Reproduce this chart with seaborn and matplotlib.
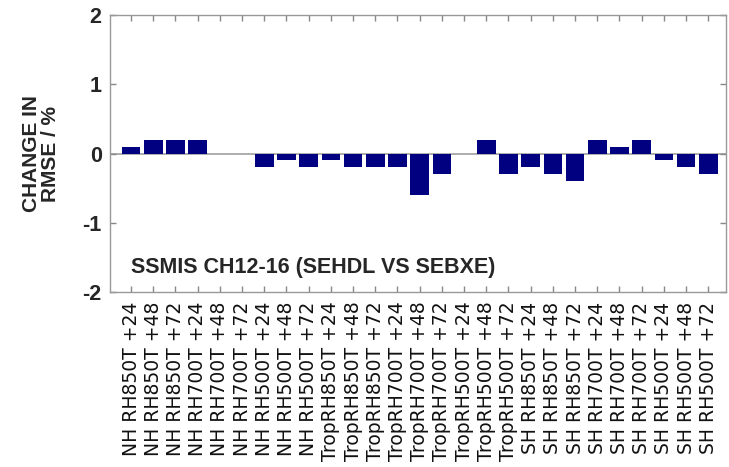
import matplotlib
matplotlib.use("Agg")
import matplotlib.pyplot as plt
import seaborn as sns
import pandas as pd

categories = [
    "NH RH850T +24", "NH RH850T +48", "NH RH850T +72",
    "NH RH700T +24", "NH RH700T +48", "NH RH700T +72",
    "NH RH500T +24", "NH RH500T +48", "NH RH500T +72",
    "TropRH850T +24", "TropRH850T +48", "TropRH850T +72",
    "TropRH700T +24", "TropRH700T +48", "TropRH700T +72",
    "TropRH500T +24", "TropRH500T +48", "TropRH500T +72",
    "SH RH850T +24", "SH RH850T +48", "SH RH850T +72",
    "SH RH700T +24", "SH RH700T +48", "SH RH700T +72",
    "SH RH500T +24", "SH RH500T +48", "SH RH500T +72",
]
values = [
    0.1, 0.2, 0.2,
    0.2, 0.0, 0.0,
    -0.2, -0.1, -0.2,
    -0.1, -0.2, -0.2,
    -0.2, -0.6, -0.3,
    0.0, 0.2, -0.3,
    -0.2, -0.3, -0.4,
    0.2, 0.1, 0.2,
    -0.1, -0.2, -0.3,
]
yticks = [-2, -1, 0, 1, 2]
title_text = "SSMIS CH12-16 (SEHDL VS SEBXE)"
ylabel_text = "CHANGE IN\nRMSE / %"

df = pd.DataFrame({"cat": categories, "val": values})

sns.set_style("white")
plt.rcParams["font.family"] = ["Liberation Sans", "DejaVu Sans"]

fig = plt.figure(figsize=(7.29, 4.67), dpi=100)
ax = fig.add_axes([0.1509, 0.3747, 0.8450, 0.5932])

sns.barplot(data=df, x="cat", y="val", color="#000080", saturation=1,
            width=0.84, linewidth=0, ax=ax)

ax.axhline(0, color="#a0a0a0", lw=1.2, zorder=0)
ax.set_xlim(-0.95, 26.8)
ax.set_ylim(-2, 2)
ax.set_yticks(yticks)
ax.set_yticklabels([str(t) for t in yticks], fontsize=15.5, fontweight="bold")
ax.set_xticks(range(len(categories)))
ax.set_xticklabels(categories, rotation=90, fontsize=13.5, family="DejaVu Sans",
                   color="#111111")
ax.tick_params(axis="both", direction="in", length=4, width=1, color="#888888",
               top=True, right=True, bottom=True, left=True)
ax.tick_params(axis="x", pad=7)
ax.tick_params(axis="y", pad=6)
for sp in ax.spines.values():
    sp.set_visible(True)
    sp.set_color("#999999")
    sp.set_linewidth(1.0)

ax.set_xlabel("")
ax.set_ylabel(ylabel_text, fontsize=15, fontweight="bold", labelpad=16,
              linespacing=1.0)

ax.text(0.0, -1.65, title_text, fontsize=15.5, fontweight="bold",
        ha="left", va="center")

fig.savefig("out.png", dpi=100)
